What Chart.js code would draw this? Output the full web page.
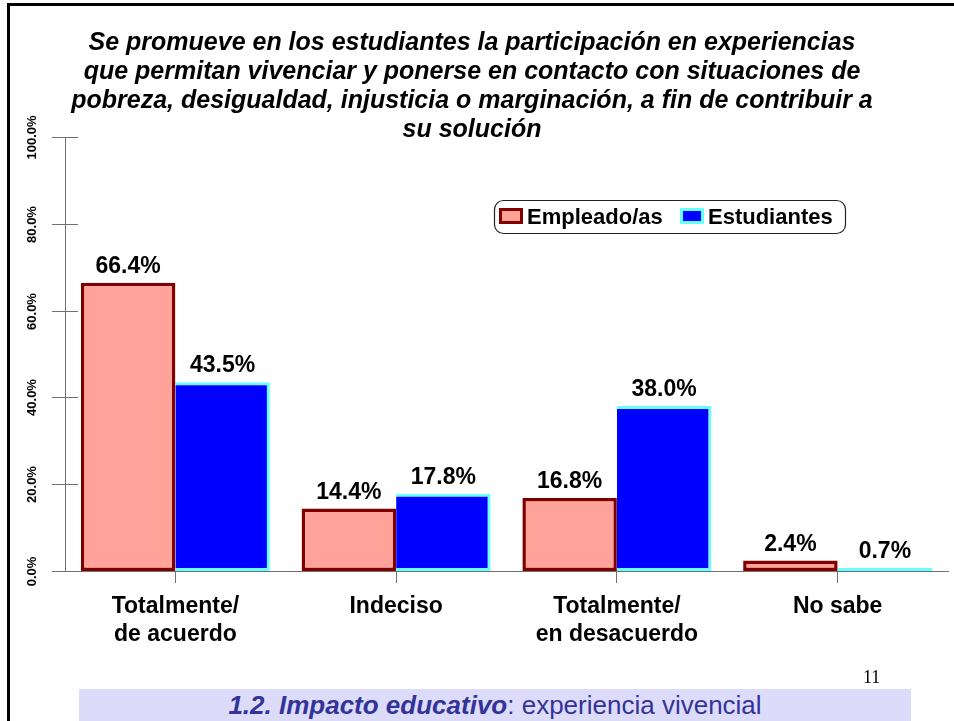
<!DOCTYPE html>
<html>
<head>
<meta charset="utf-8">
<script src="https://cdn.jsdelivr.net/npm/chart.js@4.4.1/dist/chart.umd.min.js"></script>
<style>
	body { margin: 0; background: #fff; }
	#wrap { position: relative; width: 954px; height: 721px; overflow: hidden; }
	#frame { position: absolute; left: 7px; top: 3px; width: 1000px; height: 800px; border-left: 3px solid #000; border-top: 3px solid #000; }
	#chart { position: absolute; left: 0; top: 0; }
	#pg { position: absolute; left: 863px; top: 668px; font: 18px/18px "Liberation Serif", "Times New Roman", serif; color: #000; }
	#foot { position: absolute; left: 79px; top: 689px; width: 832px; height: 32px; background: #dcdcfa; color: #333399;
		font: 26px/32px "Liberation Sans", Arial, sans-serif; text-align: center; white-space: nowrap; }
</style>
</head>
<body>
<div id="wrap">
	<div id="frame"></div>
	<canvas id="chart" width="954" height="721"></canvas>
	<div id="pg">11</div>
	<div id="foot"><b><i>1.2. Impacto educativo</i></b>: experiencia vivencial</div>
</div>
<script>
const titleLines = [
	"Se promueve en los estudiantes la participación en experiencias",
	"que permitan vivenciar y ponerse en contacto con situaciones de",
	"pobreza, desigualdad, injusticia o marginación, a fin de contribuir a",
	"su solución",
];
const categories = [["Totalmente/", "de acuerdo"], "Indeciso", ["Totalmente/", "en desacuerdo"], "No sabe"];
const empleados = [66.4, 14.4, 16.8, 2.4];
const estudiantes = [43.5, 17.8, 38.0, 0.7];
const yMax = 100;
const yStep = 20;

const FONT = '"Liberation Sans", Arial, sans-serif';
const AXIS = "#707070";

Chart.defaults.font.family = FONT;
Chart.defaults.color = "#000";

// title, crossing y ticks, rotated y labels, value labels and the boxed legend
const decor = {
	id: "decor",
	afterDraw(chart) {
		const { ctx, chartArea, scales } = chart;
		const y = scales.y;
		ctx.save();

		ctx.fillStyle = "#000";
		ctx.textAlign = "center";
		ctx.textBaseline = "alphabetic";
		ctx.font = "italic bold 25px " + FONT;
		titleLines.forEach((t, i) => ctx.fillText(t, 472, 50 + i * 29));

		ctx.strokeStyle = AXIS;
		ctx.lineWidth = 1;
		ctx.font = "bold 13px " + FONT;
		y.ticks.forEach((t) => {
			const py = Math.round(y.getPixelForValue(t.value)) + 0.5;
			ctx.beginPath();
			ctx.moveTo(chartArea.left - 13, py);
			ctx.lineTo(chartArea.left + 13, py);
			ctx.stroke();
			ctx.save();
			ctx.translate(32, py);
			ctx.rotate(-Math.PI / 2);
			ctx.textBaseline = "middle";
			ctx.fillText(t.value.toFixed(1) + "%", 0, 0);
			ctx.restore();
		});

		ctx.font = "bold 23px " + FONT;
		chart.data.datasets.forEach((ds, di) => {
			chart.getDatasetMeta(di).data.forEach((bar, i) => {
				ctx.fillText(ds.data[i].toFixed(1) + "%", bar.x, bar.y - 10);
			});
		});

		// legend
		ctx.beginPath();
		ctx.roundRect(494.5, 200.5, 351, 33, 9);
		ctx.strokeStyle = "#222";
		ctx.lineWidth = 1.2;
		ctx.stroke();
		const marks = [499, 680];
		ctx.font = "bold 22px " + FONT;
		ctx.textAlign = "left";
		chart.data.datasets.forEach((ds, di) => {
			const mx = marks[di];
			ctx.fillStyle = ds.backgroundColor;
			ctx.fillRect(mx + 1.5, 209.5, 21, 13);
			ctx.strokeStyle = ds.borderColor;
			ctx.lineWidth = 3;
			ctx.strokeRect(mx + 1.5, 209.5, 21, 13);
			ctx.fillStyle = "#000";
			ctx.fillText(ds.label, mx + 28, 224);
		});

		ctx.restore();
	},
};

new Chart(document.getElementById("chart"), {
	type: "bar",
	data: {
		labels: categories,
		datasets: [
			{
				label: "Empleado/as",
				data: empleados,
				backgroundColor: "#ffa39a",
				borderColor: "#800000",
				borderWidth: 3.5,
				borderSkipped: false,
			},
			{
				label: "Estudiantes",
				data: estudiantes,
				backgroundColor: "#0000ff",
				borderColor: "#66ffff",
				borderWidth: { top: 3, right: 3, bottom: 3, left: 0 },
				borderSkipped: false,
			},
		],
	},
	options: {
		responsive: false,
		animation: false,
		categoryPercentage: 0.856,
		barPercentage: 1,
		layout: { padding: { top: 137, left: 65, right: 6, bottom: 62.8 } },
		plugins: {
			legend: { display: false },
			tooltip: { enabled: false },
		},
		scales: {
			x: {
				grid: { display: true, drawOnChartArea: false, offset: false, tickLength: 12, color: AXIS },
				border: { color: AXIS, width: 1 },
				ticks: {
					color: "#000",
					padding: 10,
					maxRotation: 0,
					autoSkip: false,
					font: { size: 23, weight: "bold", lineHeight: 1.2 },
				},
			},
			y: {
				min: 0,
				max: yMax,
				ticks: { stepSize: yStep, display: false },
				grid: { display: false, drawTicks: false },
				border: { color: AXIS, width: 1 },
			},
		},
	},
	plugins: [decor],
});
</script>
</body>
</html>
